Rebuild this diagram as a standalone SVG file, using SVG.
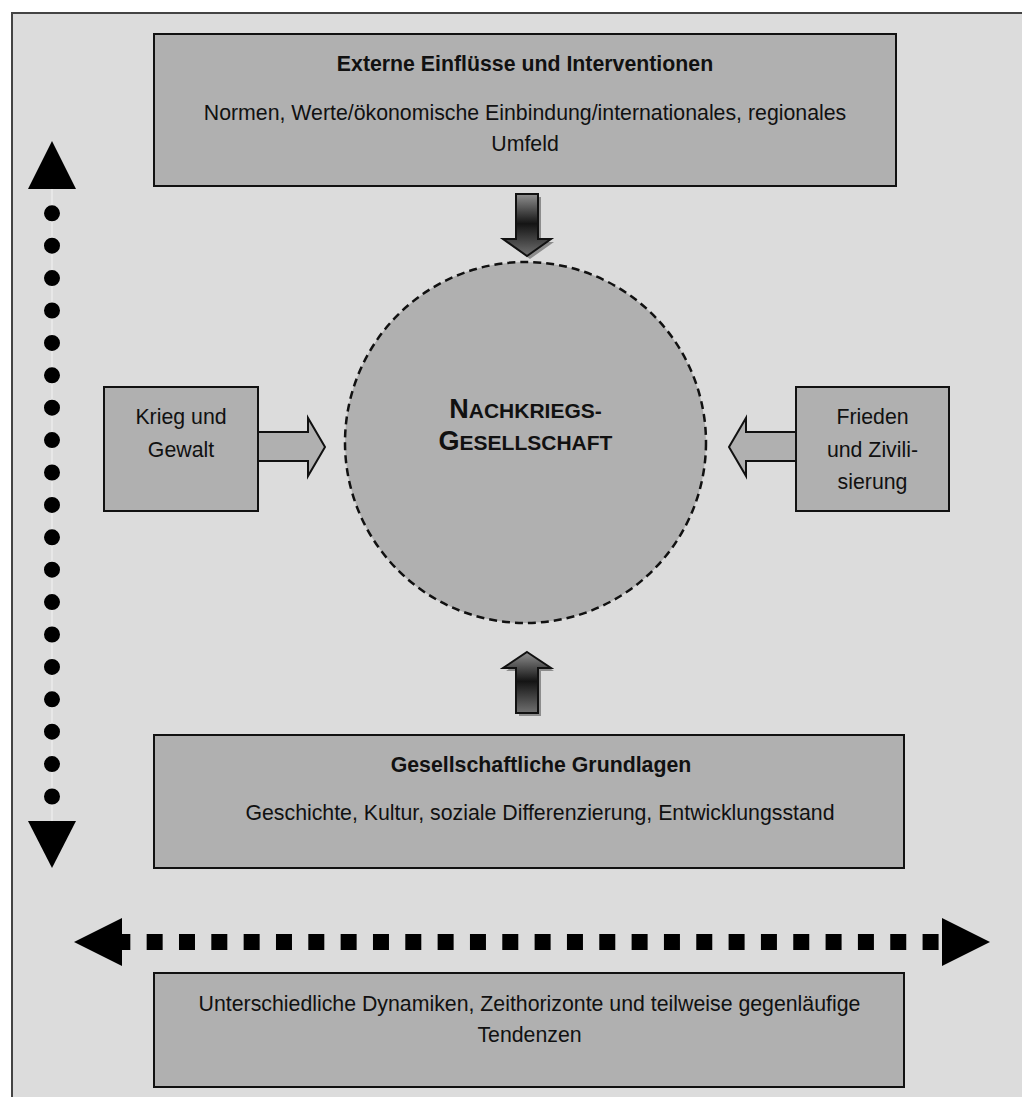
<svg xmlns="http://www.w3.org/2000/svg" width="1022" height="1097" viewBox="0 0 1022 1097">
  <style>
    text { font-family: "Liberation Sans", Arial, sans-serif; font-size: 21.3px; fill: #111; text-anchor: middle; }
    .b { font-weight: bold; }
    .box { fill: #b0b0b0; stroke: #111; stroke-width: 2; }
    .blk { fill: #b0b0b0; stroke: #111; stroke-width: 2; stroke-linejoin: miter; }
    .grad { fill: url(#g); stroke: #111; stroke-width: 2; }
    .shadow { fill: #8c8c8c; }
    .head { fill: #000; }
  </style>
  <defs>
    <linearGradient id="g" x1="0" y1="0" x2="0" y2="1">
      <stop offset="0" stop-color="#909090"/>
      <stop offset="0.48" stop-color="#141414"/>
      <stop offset="1" stop-color="#707070"/>
    </linearGradient>
  </defs>
  <rect x="0" y="0" width="1022" height="1097" fill="#fff"/>
  <rect x="12" y="13" width="1030" height="1100" fill="#dcdcdc" stroke="#444" stroke-width="2"/>

  <g id="connectors">
    <!-- vertical dotted double arrow -->
    <line x1="52" y1="189" x2="52" y2="821" stroke="#f2f2f2" stroke-width="1"/>
    <line x1="52" y1="213.3" x2="52" y2="800" stroke="#000" stroke-width="16" stroke-linecap="round" stroke-dasharray="0.01 32.39"/>
    <polygon class="head" points="52,141 76,189 28,189"/>
    <polygon class="head" points="28,821 76,821 52,868"/>
    <!-- horizontal dashed double arrow -->
    <line x1="114.33" y1="942" x2="942" y2="942" stroke="#000" stroke-width="16" stroke-dasharray="16 16.33"/>
    <polygon class="head" points="74,942 122,918 122,966"/>
    <polygon class="head" points="942,918 990,942 942,966"/>
    <!-- top down arrow -->
    <polygon class="shadow" points="519,197 541,197 541,242 554,242 530,259 506,242 519,242"/>
    <polygon class="grad" points="516,194 538,194 538,239 551,239 527,256 503,239 516,239"/>
    <!-- bottom up arrow -->
    <polygon class="shadow" points="530,655 554,671 541,671 541,716 519,716 519,671 506,671"/>
    <polygon class="grad" points="527,652 551,668 538,668 538,713 516,713 516,668 503,668"/>
    <!-- left block arrow -->
    <polygon class="blk" points="258,432 308,432 308,418 325,447 308,476 308,461 258,461"/>
    <!-- right block arrow -->
    <polygon class="blk" points="796,432 746,432 746,418 729,447 746,476 746,461 796,461"/>
  </g>

  <g id="node-extern">
    <rect class="box" x="154" y="34" width="742" height="152"/>
    <text class="b" x="525" y="71">Externe Einflüsse und Interventionen</text>
    <text x="525" y="120">Normen, Werte/ökonomische Einbindung/internationales, regionales</text>
    <text x="525" y="151">Umfeld</text>
  </g>

  <g id="node-nachkrieg">
    <circle cx="525.5" cy="442.5" r="180.5" fill="#b0b0b0" stroke="#111" stroke-width="2.5" stroke-dasharray="8 5"/>
    <text class="b" x="525.5" y="418"><tspan font-size="27">N</tspan><tspan font-size="21">ACHKRIEGS-</tspan></text>
    <text class="b" x="525.5" y="450"><tspan font-size="27">G</tspan><tspan font-size="21">ESELLSCHAFT</tspan></text>
  </g>

  <g id="node-krieg">
    <rect class="box" x="104" y="387" width="154" height="124"/>
    <text x="181" y="424">Krieg und</text>
    <text x="181" y="457">Gewalt</text>
  </g>

  <g id="node-frieden">
    <rect class="box" x="796" y="387" width="153" height="124"/>
    <text x="872.5" y="424">Frieden</text>
    <text x="872.5" y="457">und Zivili-</text>
    <text x="872.5" y="489">sierung</text>
  </g>

  <g id="node-grundlagen">
    <rect class="box" x="154" y="735" width="750" height="133"/>
    <text class="b" x="541" y="772">Gesellschaftliche Grundlagen</text>
    <text x="540" y="820">Geschichte, Kultur, soziale Differenzierung, Entwicklungsstand</text>
  </g>

  <g id="node-dynamiken">
    <rect class="box" x="154" y="973" width="750" height="114"/>
    <text x="529.5" y="1011">Unterschiedliche Dynamiken, Zeithorizonte und teilweise gegenläufige</text>
    <text x="529.5" y="1042">Tendenzen</text>
  </g>
</svg>
